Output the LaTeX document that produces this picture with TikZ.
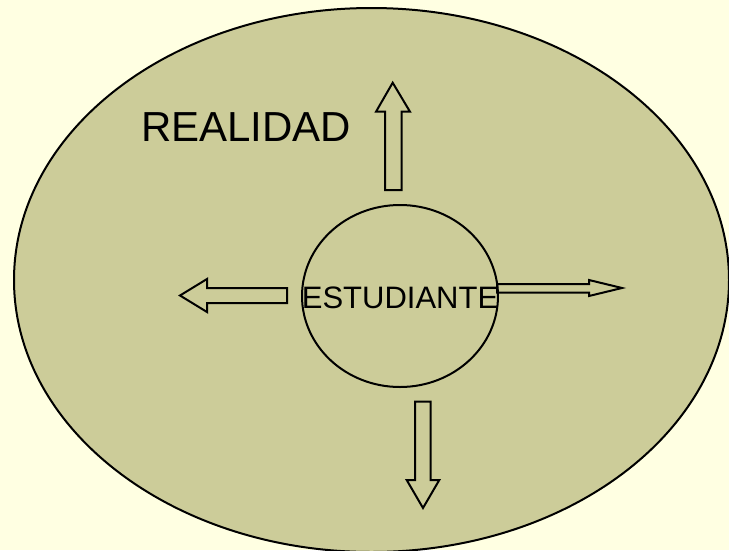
\documentclass[tikz,border=0pt]{standalone}
\usepackage{fontspec}
\setmainfont{Liberation Sans}
\usetikzlibrary{positioning, shapes.geometric}
\definecolor{paleyellow}{RGB}{255,255,226}
\definecolor{olivefill}{RGB}{204,204,153}

\begin{document}
\begin{tikzpicture}[
  x=1pt, y=-1pt,
  blockarrow/.style={draw=black, line width=2pt, line join=miter},
  innerellipse/.style={draw=black, line width=2pt, ellipse, inner sep=0pt,
                       minimum width=196pt, minimum height=182pt}
]
  \useasboundingbox (0,0) rectangle (729,550);
  \fill[paleyellow] (0,0) rectangle (729,550);
  \begin{scope}
    \clip (0,0) rectangle (729,550);
    \draw[fill=olivefill, line width=2pt] (371.5,280) ellipse [x radius=357.5pt, y radius=272pt];
  \end{scope}

  \node[anchor=base west, inner sep=0pt, font=\fontsize{42}{48}\selectfont] (realidadlabel) at (141,141) {REALIDAD};
  \node[innerellipse] (estudiante) at (400,296) {};
  \node[inner sep=0pt, font=\fontsize{31}{36}\selectfont] (estlabel) at (400,298) {ESTUDIANTE};

  % block arrows
  \draw[blockarrow] (385,190) -- (385,111.7) -- (376,111.7) -- (392.7,82.7) -- (410,111.7) -- (401.7,111.7) -- (401.7,190) -- cycle;
  \draw[blockarrow] (287,288) -- (207,288) -- (207,279) -- (180,295.5) -- (207,312) -- (207,303) -- (287,303) -- cycle;
  \draw[blockarrow] (497,284) -- (589,284) -- (589,280) -- (622,288) -- (589,296) -- (589,292.5) -- (497,292.5) -- cycle;
  \draw[blockarrow] (415,401.7) -- (415,480) -- (406.7,480) -- (423,508) -- (439.3,480) -- (430.7,480) -- (430.7,401.7) -- cycle;
\end{tikzpicture}
\end{document}
